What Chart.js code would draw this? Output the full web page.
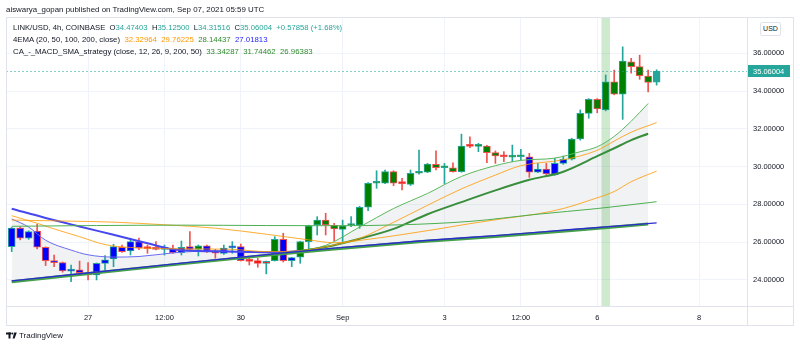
<!DOCTYPE html>
<html>
<head>
<meta charset="utf-8">
<script src="https://cdn.jsdelivr.net/npm/chart.js@4.4.1/dist/chart.umd.min.js"></script>
<style>
  html, body { margin: 0; padding: 0; background: #fff; }
  #wrap { position: relative; width: 800px; height: 348px; font-family: 'Liberation Sans', Arial, sans-serif; }
  #wrap canvas { position: absolute; left: 0; top: 0; }
  .txt { position: absolute; white-space: pre; color: #131722; line-height: 12px; }
  .teal { color: #26a69a; }
  .orange { color: #ff9800; }
  .green { color: #2e8b2e; }
  .blue { color: #1f1fff; }
  #usd { position: absolute; left: 760px; top: 22px; width: 19px; height: 12px; border: 1px solid #e0e3eb; border-radius: 2px;
         font-size: 7px; line-height: 12px; text-align: center; color: #131722; background: #fff; }
</style>
</head>
<body>
<div id="wrap">
  <canvas id="chart" width="800" height="348"></canvas>
  <div class="txt" style="left:6px; top:4px; font-size:7.9px;">aiswarya_gopan published on TradingView.com, Sep 07, 2021 05:59 UTC</div>
  <div class="txt" style="left:13px; top:22px; font-size:7.7px;">LINK/USD, 4h, COINBASE  O<span class="teal">34.47403</span>  H<span class="teal">35.12500</span>  L<span class="teal">34.31516</span>  C<span class="teal">35.06004</span>  <span class="teal">+0.57858 (+1.68%)</span></div>
  <div class="txt" style="left:13px; top:34px; font-size:7.8px;">4EMA (20, 50, 100, 200, close)  <span class="orange">32.32964</span>  <span class="orange">29.76225</span>  <span class="green">28.14437</span>  <span class="blue">27.01813</span></div>
  <div class="txt" style="left:13px; top:46px; font-size:7.8px;">CA_-_MACD_SMA_strategy (close, 12, 26, 9, 200, 50)  <span class="green">33.34287</span>  <span class="green">31.74462</span>  <span class="green">26.96383</span></div>
  <div id="usd">USD</div>
  <svg style="position:absolute; left:6px; top:332px;" width="12" height="8" viewBox="0 0 12 8">
    <rect x="0" y="0.5" width="5" height="2" fill="#131722"/>
    <rect x="2.5" y="0.5" width="2" height="6" fill="#131722"/>
    <circle cx="6.3" cy="1.5" r="1.1" fill="#131722"/>
    <polygon points="8.2,0.5 10.8,0.5 8.6,6.5 6.6,6.5" fill="#131722"/>
  </svg>
  <div class="txt" style="left:19px; top:330px; font-size:8px;">TradingView</div>
</div>
<script>
// LINK/USD 4h candles, Aug 25 12:00 -> Sep 7 04:00 (bar index 0..76)
const opens  = [25.76, 26.74, 26.21, 26.59, 25.73, 25.02, 24.92, 24.47, 24.53, 24.35,
                24.26, 24.88, 25.11, 25.73, 25.53, 26.03, 25.70, 25.71, 25.62, 25.64,
                25.44, 25.76, 25.62, 25.80, 25.46, 25.41, 25.70, 25.76, 25.02, 25.02,
                24.88, 25.02, 26.15, 25.02, 25.20, 26.03, 26.91, 27.17, 26.89, 26.68,
                26.88, 26.90, 27.85, 29.12, 29.12, 29.73, 29.12, 29.06, 29.65, 29.70,
                30.12, 29.94, 29.94, 29.73, 31.09, 31.07, 31.09, 30.74, 30.54, 30.50,
                30.52, 30.52, 29.70, 29.87, 29.56, 30.17, 30.39, 31.46, 32.82, 33.56,
                33.00, 34.49, 33.84, 35.55, 35.29, 34.79, 34.47403]
const highs  = [26.78, 26.80, 26.60, 26.95, 25.75, 25.32, 24.95, 24.79, 25.00, 24.92,
                24.90, 25.29, 25.89, 25.85, 26.21, 26.21, 25.85, 26.03, 25.85, 25.85,
                26.06, 26.56, 25.85, 25.85, 25.62, 25.85, 26.03, 25.90, 25.23, 25.15,
                25.00, 26.29, 26.47, 25.20, 26.05, 26.90, 27.35, 27.53, 27.00, 27.17,
                27.35, 27.90, 29.15, 29.78, 29.82, 29.78, 29.38, 29.82, 30.88, 30.17,
                30.84, 30.17, 30.20, 31.72, 31.58, 31.23, 31.12, 30.83, 30.79, 31.14,
                30.91, 30.70, 30.17, 30.17, 30.44, 30.56, 31.50, 33.00, 33.60, 33.60,
                34.85, 35.11, 36.34, 35.73, 35.90, 35.11, 35.125]
const lows   = [25.50, 26.12, 26.15, 25.64, 24.76, 24.70, 24.41, 23.91, 24.26, 24.00,
                24.00, 24.53, 24.70, 25.45, 25.32, 25.60, 25.41, 25.59, 25.32, 25.40,
                25.32, 25.56, 25.27, 25.45, 25.15, 25.35, 25.41, 25.00, 24.79, 24.67,
                24.32, 25.00, 24.95, 24.70, 24.88, 25.64, 26.38, 26.38, 26.08, 26.03,
                26.82, 26.73, 27.67, 28.85, 29.10, 28.99, 28.76, 29.00, 29.60, 29.68,
                29.82, 29.08, 29.70, 29.70, 31.00, 30.79, 30.21, 30.17, 30.26, 30.26,
                30.35, 29.43, 29.68, 29.58, 29.54, 30.12, 30.35, 31.40, 32.56, 32.85,
                32.95, 33.80, 32.50, 34.94, 34.62, 33.96, 34.31516]
const closes = [26.74, 26.21, 26.56, 25.73, 25.02, 24.92, 24.48, 24.50, 24.39, 24.26,
                24.88, 25.06, 25.76, 25.50, 26.03, 25.68, 25.66, 25.62, 25.66, 25.44,
                25.73, 25.62, 25.80, 25.50, 25.42, 25.68, 25.73, 25.02, 24.98, 24.88,
                24.97, 26.15, 25.02, 25.18, 26.03, 26.86, 27.17, 26.91, 26.70, 26.86,
                26.90, 27.85, 29.12, 29.15, 29.73, 29.12, 29.10, 29.65, 29.70, 30.14,
                29.94, 29.96, 29.73, 31.09, 31.07, 31.09, 30.74, 30.56, 30.52, 30.53,
                30.56, 29.70, 29.87, 29.61, 30.17, 30.39, 31.46, 32.82, 33.56, 33.05,
                34.49, 33.84, 35.59, 35.29, 34.81, 34.46, 35.06004]
// strategy state per bar: s = sell, b = buy, x = neutral, c = current bar
const signal = [
  's', 's', 's', 's', 's', 's', 's', 's', 's', 'x',
  's', 's', 's', 's', 's', 's', 'x', 's', 's', 's',
  's', 's', 'b', 's', 's', 's', 's', 's', 'x', 'x',
  'x', 'b', 's', 's', 'b', 'b', 'b', 'b', 'b', 'b',
  'b', 'b', 'b', 'b', 'b', 'b', 'x', 'b', 'b', 'b',
  'b', 'b', 'b', 'b', 'x', 'b', 'b', 'b', 'x', 'b',
  'b', 's', 's', 's', 's', 's', 'b', 'b', 'b', 'b',
  'b', 'b', 'b', 'b', 'b', 'b', 'c']

// 4EMA (20, 50, 100, 200) as [bar, value]
const ema20  = [[0, 27.40], [3, 27.00], [5, 26.70], [8, 26.29], [11, 25.87], [14, 25.72], [18, 25.66],
                [22, 25.64], [26, 25.62], [30, 25.50], [34, 25.55], [38, 25.85], [41, 26.20], [45, 27.05],
                [49, 27.95], [53, 28.82], [57, 29.55], [60, 30.05], [65, 30.36], [69, 30.86], [71, 31.35],
                [73, 31.82], [76, 32.33]]
const ema50  = [[0, 27.17], [6, 27.12], [12, 27.06], [18, 26.92], [24, 26.74], [30, 26.42], [35, 26.12],
                [38, 25.97], [42, 26.15], [46, 26.40], [50, 26.68], [54, 26.98], [58, 27.25], [62, 27.50],
                [65, 27.78], [68, 28.20], [71, 28.68], [73, 29.20], [76, 29.76]]
const ema100 = [[0, 26.84], [10, 26.88], [20, 26.90], [30, 26.88], [38, 26.87], [46, 26.92], [54, 27.10],
                [62, 27.48], [69, 27.78], [76, 28.14]]
const ema200 = [[0, 23.95], [10, 24.42], [20, 24.89], [30, 25.34], [38, 25.68], [48, 26.06], [57, 26.35],
                [66, 26.67], [76, 27.02]]

// CA_-_MACD_SMA_strategy moving averages
const smaFast = [[0, 27.23], [2, 26.80], [4, 26.10], [7, 25.58], [9, 25.33], [12, 25.21], [15, 25.24],
                 [19, 25.43], [22, 25.52], [25, 25.53], [28, 25.47], [31, 25.44], [34, 25.56], [37, 25.83],
                 [41, 26.80], [45, 27.78], [49, 28.58], [53, 29.48], [57, 30.05], [60, 30.33], [64, 30.45],
                 [67, 30.79], [69, 31.05], [71, 31.60], [73, 32.40], [75, 33.34]]
const smaMid  = [[0, 27.77], [4, 27.28], [8, 26.83], [12, 26.39], [16, 25.94], [19, 25.62], [22, 25.53],
                 [25, 25.51], [28, 25.48], [31, 25.46], [34, 25.53], [37, 25.74], [41, 26.18], [45, 26.70],
                 [49, 27.48], [53, 28.12], [57, 28.74], [61, 29.30], [65, 29.73], [69, 30.55], [71, 30.97],
                 [73, 31.40], [75, 31.74]]
const smaSlow = [[0, 23.91], [10, 24.38], [20, 24.85], [30, 25.30], [38, 25.64], [48, 26.02], [57, 26.30],
                 [66, 26.62], [75, 26.96]]
const trendFlipBar = 34
const signalBar = 70

const yTicks = [24, 26, 28, 30, 32, 34, 36]
const timeTicks = [9, 18, 27, 39, 51, 60, 69, 81]
const timeLabels = ['27', '12:00', '30', 'Sep', '3', '12:00', '6', '8']

const FONT = "'Liberation Sans', Arial, sans-serif"
const UP = '#26a69a', DOWN = '#ef5350'
const fillOf = { s: '#0000ff', b: '#008000', x: '#ff0000', c: '#26a69a' }

const toPts = arr => arr.map(p => ({ x: p[0], y: p[1] }))
const bodies = opens.map((o, i) => ({ x: i, y: [o, closes[i]] }))
const wicks = lows.map((l, i) => ({ x: i, y: [l, highs[i]] }))
const edge = opens.map((o, i) => closes[i] >= o ? UP : DOWN)

const lastClose = closes[closes.length - 1]

// green band on the signal bar, dashed last-price line and price tag, panel frame
const overlay = {
  id: 'overlay',
  beforeDatasetsDraw(chart) {
    const { ctx, chartArea: a, scales: { x } } = chart
    const l = x.getPixelForValue(signalBar - 0.5), r = x.getPixelForValue(signalBar + 0.5)
    ctx.save()
    ctx.fillStyle = 'rgba(76,175,80,0.28)'
    ctx.fillRect(l, a.top, r - l, a.bottom - a.top)
    ctx.restore()
  },
  afterDatasetsDraw(chart) {
    const { ctx, chartArea: a, scales: { y } } = chart
    const py = Math.round(y.getPixelForValue(lastClose)) + 0.5
    ctx.save()
    ctx.strokeStyle = 'rgba(38,166,154,0.55)'
    ctx.setLineDash([2, 2])
    ctx.lineWidth = 1
    ctx.beginPath()
    ctx.moveTo(a.left, py)
    ctx.lineTo(a.right, py)
    ctx.stroke()
    ctx.setLineDash([])
    ctx.fillStyle = UP
    ctx.fillRect(a.right, py - 6.5, 43, 12)
    ctx.fillStyle = '#fff'
    ctx.font = '7.5px ' + FONT
    ctx.textBaseline = 'middle'
    ctx.fillText(lastClose.toFixed(5), a.right + 6, py)
    ctx.restore()
  },
  afterDraw(chart) {
    const { ctx, chartArea: a } = chart
    ctx.save()
    ctx.strokeStyle = '#e0e3eb'
    ctx.lineWidth = 1
    ctx.strokeRect(6.5, 17.5, 787, 308)
    ctx.beginPath()
    ctx.moveTo(a.right + 0.5, 17)
    ctx.lineTo(a.right + 0.5, 325)
    ctx.moveTo(6, a.bottom + 0.5)
    ctx.lineTo(793, a.bottom + 0.5)
    ctx.stroke()
    ctx.restore()
  }
}

const trendColor = (blue, green) => c => c.p0.parsed.x < trendFlipBar ? blue : green
const line = (pts, color, width, extra) => Object.assign({
  type: 'line', data: toPts(pts), borderColor: color, borderWidth: width,
  pointRadius: 0, cubicInterpolationMode: 'monotone', fill: false, order: 1
}, extra || {})

new Chart(document.getElementById('chart'), {
  type: 'bar',
  data: {
    datasets: [
      line(smaSlow, '#43a047', 3, { order: 1 }),                            // 0
      line(ema200, '#2b2bd0', 1.3, { order: 0 }),                           // 1
      line(ema100, '#4caf50', 1),                                           // 2
      line(ema50, 'rgba(255,152,0,0.8)', 1),                                // 3
      line(ema20, 'rgba(255,152,0,0.8)', 1),                                // 4
      line(smaMid, '#388e3c', 2, { segment: { borderColor: trendColor('#4747ee', '#388e3c') } }),
      line(smaFast, '#5cb85c', 1, {
        segment: { borderColor: trendColor('#6a6af5', '#5cb85c') },
        fill: { target: 0 }, backgroundColor: 'rgba(120,123,134,0.1)'
      }),
      { type: 'bar', data: wicks, grouped: false, barThickness: 1, order: 3,
        backgroundColor: edge },
      { type: 'bar', data: bodies, grouped: false, barThickness: 7, order: 2, minBarLength: 2,
        backgroundColor: signal.map(s => fillOf[s]), borderColor: edge, borderWidth: 1, borderSkipped: false }
    ]
  },
  options: {
    responsive: false,
    animation: false,
    layout: { padding: { left: 6, top: 17, right: 7, bottom: 23 } },
    plugins: {
      legend: { display: false },
      tooltip: { enabled: false },
      filler: { drawTime: 'beforeDatasetsDraw' }
    },
    scales: {
      x: {
        type: 'linear', min: -0.67, max: 86.65, offset: false,
        afterBuildTicks: s => { s.ticks = timeTicks.map(v => ({ value: v })) },
        afterFit: s => { s.height = 19 },
        grid: { color: '#f0f3fa', drawTicks: false, offset: false },
        border: { display: false },
        ticks: {
          autoSkip: false, maxRotation: 0, padding: 7, color: '#131722',
          font: { family: FONT, size: 7.5 },
          callback: (v, i) => timeLabels[i]
        }
      },
      y: {
        position: 'right', min: 22.62, max: 37.92,
        afterBuildTicks: s => { s.ticks = yTicks.map(v => ({ value: v })) },
        afterFit: s => { s.width = 46 },
        grid: { color: '#f0f3fa', drawTicks: false },
        border: { display: false },
        ticks: {
          padding: 6, color: '#131722',
          font: { family: FONT, size: 7.5 },
          callback: v => v.toFixed(5)
        }
      }
    }
  },
  plugins: [overlay]
})
</script>
</body>
</html>
